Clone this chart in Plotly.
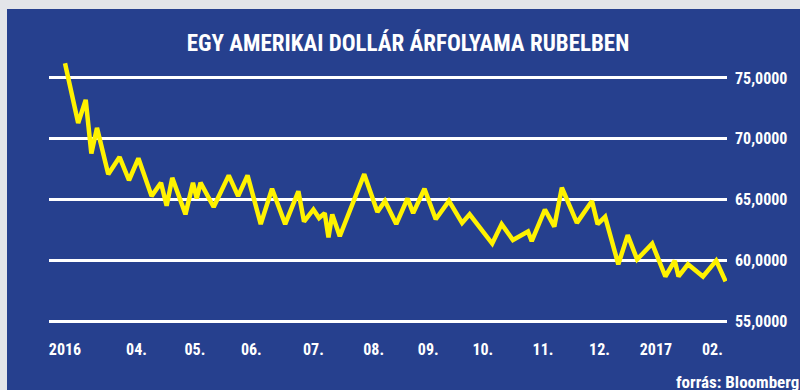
import plotly.graph_objects as go

# Data
dates = [
    "2016-02-23", "2016-03-01", "2016-03-05", "2016-03-08", "2016-03-11", "2016-03-17",
    "2016-03-23", "2016-03-28", "2016-04-02", "2016-04-09", "2016-04-14", "2016-04-17",
    "2016-04-20", "2016-04-27", "2016-05-01", "2016-05-03", "2016-05-05", "2016-05-12",
    "2016-05-20", "2016-05-25", "2016-05-30", "2016-06-06", "2016-06-12", "2016-06-19",
    "2016-06-26", "2016-06-29", "2016-07-04", "2016-07-07", "2016-07-10", "2016-07-12",
    "2016-07-14", "2016-07-18", "2016-07-31", "2016-08-07", "2016-08-11", "2016-08-17",
    "2016-08-23", "2016-08-26", "2016-09-01", "2016-09-07", "2016-09-14", "2016-09-21",
    "2016-09-25", "2016-10-07", "2016-10-12", "2016-10-18", "2016-10-26", "2016-10-28",
    "2016-11-04", "2016-11-09", "2016-11-13", "2016-11-21", "2016-11-29", "2016-12-02",
    "2016-12-06", "2016-12-13", "2016-12-18", "2016-12-23", "2016-12-31", "2017-01-07",
    "2017-01-12", "2017-01-14", "2017-01-19", "2017-01-27", "2017-02-03", "2017-02-08",
]
usd_rub = [
    76.2, 71.3, 73.2, 68.8, 70.9, 67.1,
    68.5, 66.6, 68.4, 65.3, 66.4, 64.5,
    66.8, 63.8, 66.4, 65.1, 66.4, 64.4,
    67.0, 65.3, 67.0, 63.0, 65.9, 63.0,
    65.7, 63.2, 64.2, 63.5, 63.9, 61.9,
    63.8, 62.0, 67.1, 64.0, 64.9, 63.0,
    65.1, 63.9, 65.9, 63.4, 64.9, 63.1,
    63.8, 61.4, 63.0, 61.7, 62.4, 61.6,
    64.2, 62.8, 66.0, 63.1, 64.9, 63.0,
    63.6, 59.7, 62.1, 60.1, 61.4, 58.7,
    60.0, 58.7, 59.7, 58.7, 60.0, 58.3,
]

x_tick_dates = ["2016-02-23", "2016-04-01", "2016-05-02", "2016-06-01", "2016-07-04",
                "2016-08-05", "2016-09-03", "2016-10-02", "2016-11-03", "2016-12-03",
                "2017-01-02", "2017-02-01"]
x_tick_labels = ["2016", "04.", "05.", "06.", "07.", "08.", "09.", "10.", "11.", "12.",
                 "2017", "02."]
y_tick_vals = [55, 60, 65, 70, 75]
y_tick_labels = ["55,0000", "60,0000", "65,0000", "70,0000", "75,0000"]

title_text = "EGY AMERIKAI DOLLÁR ÁRFOLYAMA RUBELBEN"
source_text = "forrás: Bloomberg"

BLUE = "#26408e"
GRAY = "#e3e5e9"
YELLOW = "#fff200"
FONT = "Liberation Sans Narrow, Roboto Condensed, Arial Narrow, sans-serif"

fig = go.Figure()
fig.add_trace(go.Scatter(
    x=dates, y=usd_rub, mode="lines",
    line=dict(color=YELLOW, width=4.5),
    hoverinfo="skip",
))

W, H = 800, 390
ml, mr, mt, mb = 49, 73, 56, 65.6
pw, ph = W - ml - mr, H - mt - mb

def px2paper_x(px):
    return (px - ml) / pw

def px2paper_y(py):
    return (H - mb - py) / ph

fig.add_shape(type="rect", xref="paper", yref="paper",
              x0=px2paper_x(7), x1=px2paper_x(801), y0=px2paper_y(391), y1=px2paper_y(9),
              fillcolor=BLUE, line=dict(width=0), layer="below")

fig.update_layout(
    width=W, height=H,
    margin=dict(l=ml, r=mr, t=mt, b=mb, pad=0),
    paper_bgcolor=GRAY,
    plot_bgcolor="rgba(0,0,0,0)",
    showlegend=False,
    font=dict(family=FONT, color="white"),
    title=dict(text="<b>" + title_text + "</b>", x=px2paper_x(408), xref="paper", xanchor="center",
               y=1 - 43 / H, yanchor="middle",
               font=dict(family=FONT, size=23, color="white")),
    xaxis=dict(
        type="date",
        range=["2016-02-14 12:00", "2017-02-08 18:00"],
        tickmode="array", tickvals=x_tick_dates,
        ticktext=["<b>" + t + "</b>" for t in x_tick_labels],
        showgrid=False, zeroline=False, showline=False, ticks="",
        tickfont=dict(family=FONT, size=16, color="white"),
        ticklabelstandoff=14,
    ),
    yaxis=dict(
        range=[54.8, 76.8], side="right",
        tickmode="array", tickvals=y_tick_vals,
        ticktext=["<b>" + t + "</b>" for t in y_tick_labels],
        showgrid=True, gridcolor="white", gridwidth=3,
        zeroline=False, showline=False, ticks="",
        tickfont=dict(family=FONT, size=16, color="white"),
        ticklabelstandoff=7,
    ),
    annotations=[dict(
        text="<b>" + source_text + "</b>", xref="paper", yref="paper",
        x=px2paper_x(674), y=px2paper_y(382), xanchor="left", yanchor="middle",
        showarrow=False, font=dict(family=FONT, size=17, color="white"),
    )],
)

fig.write_html("out.html")
